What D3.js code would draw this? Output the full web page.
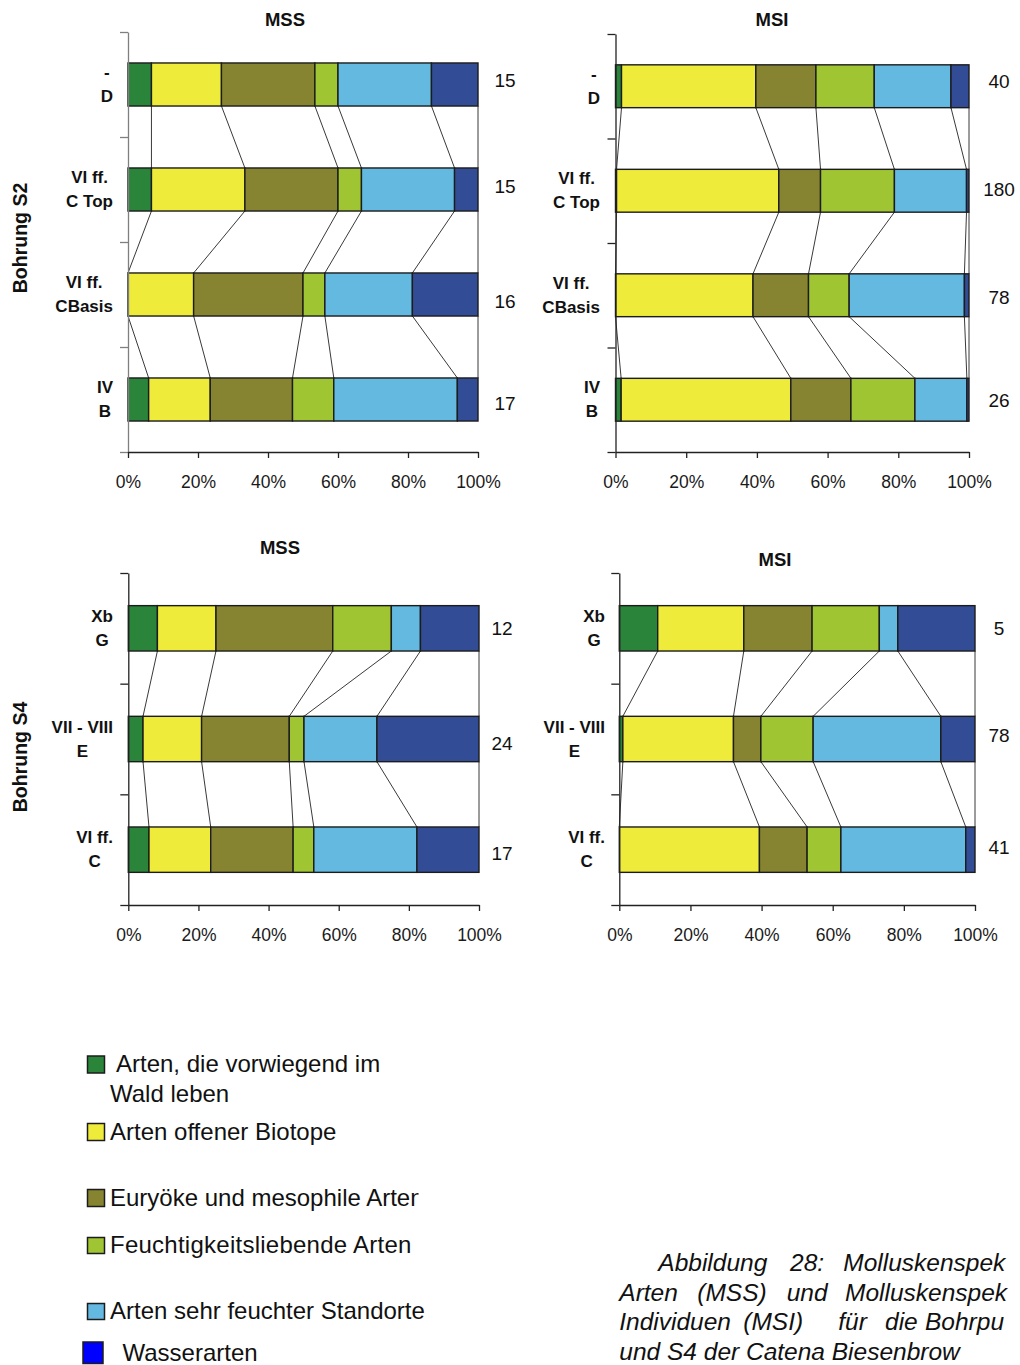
<!DOCTYPE html>
<html>
<head>
<meta charset="utf-8">
<script src="https://cdn.jsdelivr.net/npm/d3@7"></script>
<style>
  html, body { margin: 0; padding: 0; background: #fff; }
  svg { display: block; font-family: "Liberation Sans", Arial, Helvetica, sans-serif; }
</style>
</head>
<body>
<svg id="fig" width="1020" height="1365"></svg>
<script>
// Ecological groups of molluscs (stack order, left to right)
const groups = [
  "Arten, die vorwiegend im Wald leben",
  "Arten offener Biotope",
  "Euryöke und mesophile Arten",
  "Feuchtigkeitsliebende Arten",
  "Arten sehr feuchter Standorte",
  "Wasserarten"
];
const groupColors = ["#2a853b", "#eeeb3b", "#878431", "#a0c533", "#63b9e0", "#324d95"];
const legendColors = ["#2a853b", "#eeeb3b", "#878431", "#a0c533", "#63b9e0", "#0000ff"];

// Borehole S2 samples (top to bottom)
const s2Samples = [["-", "D"], ["VI ff.", "C Top"], ["VI ff.", "CBasis"], ["IV", "B"]];
// MSS: share of species per group (%), and number of species
const s2MssShares = [
  [6.7, 20.0, 26.7, 6.6, 26.7, 13.3],
  [6.7, 26.7, 26.6, 6.7, 26.6, 6.7],
  [0.0, 18.75, 31.25, 6.25, 25.0, 18.75],
  [5.9, 17.6, 23.5, 11.8, 35.3, 5.9]
];
const s2MssTotals = [15, 15, 16, 17];
// MSI: share of individuals per group (%), and number of individuals
const s2MsiShares = [
  [1.7, 38.0, 17.0, 16.5, 21.7, 5.1],
  [0.3, 45.9, 11.8, 20.9, 20.4, 0.7],
  [0.0, 38.9, 15.7, 11.5, 32.6, 1.3],
  [1.6, 48.0, 17.0, 18.1, 14.7, 0.6]
];
const s2MsiTotals = [40, 180, 78, 26];

// Borehole S4 samples (top to bottom)
const s4Samples = [["Xb", "G"], ["VII - VIII", "E"], ["VI ff.", "C"]];
const s4MssShares = [
  [8.3, 16.7, 33.3, 16.7, 8.3, 16.7],
  [4.2, 16.7, 25.0, 4.2, 20.8, 29.1],
  [5.9, 17.6, 23.5, 5.9, 29.4, 17.7]
];
const s4MssTotals = [12, 24, 17];
const s4MsiShares = [
  [10.8, 24.2, 19.2, 18.9, 5.2, 21.7],
  [1.0, 31.1, 7.7, 14.7, 35.9, 9.6],
  [0.0, 39.4, 13.4, 9.5, 35.1, 2.6]
];
const s4MsiTotals = [5, 78, 41];

const xTickValues = [0, 0.2, 0.4, 0.6, 0.8, 1];
const boreholeNames = ["Bohrung S2", "Bohrung S4"];

const captionLines = [
  ["Abbildung", "28:", "Molluskenspek"],
  ["Arten", "(MSS)", "und", "Molluskenspek"],
  ["Individuen", "(MSI)", "für", "die", "Bohrpu"],
  ["und S4 der Catena Biesenbrow"]
];

// ---- layout ----
const panels = [
  { title: "MSS", samples: s2Samples, shares: s2MssShares, totals: s2MssTotals,
    x0: 128, x1: 478, y0: 32, y1: 452, titleX: 285, titleY: 19, valueX: 505, labelRight: 113,
    valueDy: [-4, -3, 6.5, 4], axisColor: "#7f7f7f" },
  { title: "MSI", samples: s2Samples, shares: s2MsiShares, totals: s2MsiTotals,
    x0: 615.5, x1: 969, y0: 34, y1: 452, titleX: 772, titleY: 19, valueX: 999, labelRight: 600,
    valueDy: [-5, -1.5, 2, 1], axisColor: "#222" },
  { title: "MSS", samples: s4Samples, shares: s4MssShares, totals: s4MssTotals,
    x0: 128.3, x1: 479, y0: 573, y1: 905, titleX: 280, titleY: 547, valueX: 502, labelRight: 113,
    valueDy: [0, 4, 4], axisColor: "#222" },
  { title: "MSI", samples: s4Samples, shares: s4MsiShares, totals: s4MsiTotals,
    x0: 619.3, x1: 975, y0: 573, y1: 905, titleX: 775, titleY: 559, valueX: 999, labelRight: 605,
    valueDy: [0, -4, -2], axisColor: "#222" }
];

const svg = d3.select("#fig");
svg.append("rect").attr("width", 1020).attr("height", 1365).attr("fill", "#fff");

function drawPanel(p) {
  const n = p.samples.length;
  const keys = d3.range(groups.length);
  const rows = p.shares.map(s => { const o = {}; keys.forEach(k => { o[k] = s[k]; }); return o; });
  const series = d3.stack().keys(keys).offset(d3.stackOffsetExpand)(rows);

  const x = d3.scaleLinear().domain([0, 1]).range([p.x0, p.x1]);
  const y = d3.scaleBand().domain(d3.range(n)).range([p.y0, p.y1])
    .paddingInner(0.59).paddingOuter(0.295);
  const bw = y.bandwidth();
  const g = svg.append("g");

  // series lines joining the group boundaries of neighbouring bars
  const links = [];
  series.forEach(s => {
    for (let i = 0; i < n - 1; i++) {
      links.push([x(s[i][1]), y(i) + bw, x(s[i + 1][1]), y(i + 1)]);
    }
  });
  g.append("g").selectAll("line").data(links).join("line")
    .attr("x1", d => d[0]).attr("y1", d => d[1])
    .attr("x2", d => d[2]).attr("y2", d => d[3])
    .attr("stroke", "#222").attr("stroke-width", 0.9);

  // stacked bars
  g.append("g").selectAll("g").data(series).join("g")
    .attr("fill", (d, k) => groupColors[k])
    .selectAll("rect").data(d => d).join("rect")
    .attr("x", d => x(d[0]))
    .attr("width", d => Math.max(0, x(d[1]) - x(d[0])))
    .attr("y", (d, i) => y(i))
    .attr("height", bw)
    .attr("stroke", "#1c1c1c").attr("stroke-width", 1.4);

  // category axis: ticks on band boundaries
  const yEdges = d3.scaleLinear().domain([0, n]).range([p.y0, p.y1]);
  const ya = g.append("g").attr("transform", `translate(${p.x0},0)`)
    .call(d3.axisLeft(yEdges).ticks(n).tickFormat("").tickSize(8).tickSizeOuter(0));
  ya.selectAll("path,line").attr("stroke", p.axisColor).attr("stroke-width", 1.3);

  // value axis
  const xa = g.append("g").attr("transform", `translate(0,${p.y1})`)
    .call(d3.axisBottom(x).tickValues(xTickValues).tickFormat(d3.format(".0%"))
      .tickSize(6).tickSizeOuter(0).tickPadding(17.5));
  xa.selectAll("path,line").attr("stroke", "#222").attr("stroke-width", 1.3);
  xa.selectAll("text").attr("font-size", 17.5).attr("fill", "#1a1a1a")
    .attr("font-family", "'Liberation Sans', Arial, sans-serif");

  // sample labels (two centred lines, block right-aligned)
  p.samples.forEach((lines, i) => {
    const cy = y(i) + bw / 2;
    const t = g.append("g");
    const texts = lines.map((ln, j) => t.append("text")
      .attr("y", cy + (j === 0 ? -12 : 12))
      .attr("dominant-baseline", "central")
      .attr("text-anchor", "middle")
      .attr("font-size", 17).attr("font-weight", "bold").attr("fill", "#111")
      .text(ln));
    const maxW = d3.max(texts, tx => tx.node().getComputedTextLength());
    texts.forEach(tx => tx.attr("x", p.labelRight - maxW / 2));
  });

  // sample sizes
  g.append("g").selectAll("text").data(p.totals).join("text")
    .attr("x", p.valueX).attr("y", (d, i) => y(i) + bw / 2 + p.valueDy[i])
    .attr("text-anchor", "middle").attr("dominant-baseline", "central")
    .attr("font-size", 19).attr("fill", "#111")
    .text(d => d);

  // title
  g.append("text").attr("x", p.titleX).attr("y", p.titleY)
    .attr("text-anchor", "middle").attr("dominant-baseline", "central")
    .attr("font-size", 18.5).attr("font-weight", "bold").attr("fill", "#111")
    .text(p.title);
}

panels.forEach(drawPanel);

// borehole names
[[20, 238], [20, 757]].forEach((pos, i) => {
  svg.append("text")
    .attr("transform", `translate(${pos[0]},${pos[1]}) rotate(-90)`)
    .attr("text-anchor", "middle").attr("dominant-baseline", "central")
    .attr("font-size", 19.5).attr("font-weight", "bold").attr("fill", "#111")
    .text(boreholeNames[i]);
});

// legend (the text column is cut at a fixed width)
svg.append("clipPath").attr("id", "legendClip")
  .append("rect").attr("x", 0).attr("y", 1030).attr("width", 426).attr("height", 340);
svg.append("clipPath").attr("id", "legendClipNarrow")
  .append("rect").attr("x", 0).attr("y", 1180).attr("width", 418.5).attr("height", 40);
const legend = svg.append("g").attr("clip-path", "url(#legendClip)")
  .attr("font-size", 24).attr("fill", "#111");
const legendRows = [
  { sw: [87.5, 1056, 17, 17], lines: [["Arten, die vorwiegend im", 116, 1072], ["Wald leben", 110, 1102]] },
  { sw: [87.5, 1123.5, 17, 17], lines: [[null, 110, 1139.5]] },
  { sw: [87.5, 1189.5, 17, 17], lines: [[null, 110, 1206]], clip: "url(#legendClipNarrow)" },
  { sw: [87.5, 1237.5, 17, 16], lines: [[null, 110, 1253]], spacing: 0.25 },
  { sw: [87.5, 1303.5, 17, 16], lines: [[null, 110, 1318.5]] },
  { sw: [83, 1342, 20, 21.5], lines: [[null, 122.5, 1360.5]] }
];
legendRows.forEach((r, k) => {
  legend.append("rect")
    .attr("x", r.sw[0]).attr("y", r.sw[1]).attr("width", r.sw[2]).attr("height", r.sw[3])
    .attr("fill", legendColors[k]).attr("stroke", "#1c1c1c").attr("stroke-width", 1.5);
  r.lines.forEach(l => {
    const t = legend.append("text").attr("x", l[1]).attr("y", l[2])
      .attr("letter-spacing", r.spacing || 0)
      .text(l[0] === null ? groups[k] : l[0]);
    if (r.clip) t.attr("clip-path", r.clip);
  });
});

// caption (justified block)
const captionX = [
  [658.3, 790, 843.3],
  [619.3, 697.3, 786.7, 845],
  [619.3, 743.3, 838.3, 885, 925],
  [619.3]
];
const captionY = [1271, 1300.5, 1330, 1359.5];
const cap = svg.append("g").attr("font-size", 24.5).attr("font-style", "italic").attr("fill", "#111");
captionLines.forEach((words, li) => {
  words.forEach((w, wi) => {
    cap.append("text").attr("x", captionX[li][wi]).attr("y", captionY[li]).text(w);
  });
});
</script>
</body>
</html>
